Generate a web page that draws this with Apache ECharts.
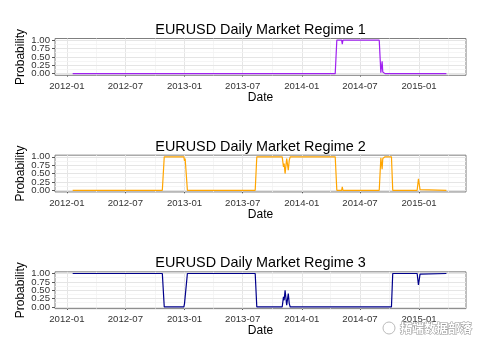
<!DOCTYPE html>
<html>
<head>
<meta charset="utf-8">
<script src="https://cdn.jsdelivr.net/npm/echarts@6/dist/echarts.min.js"></script>
<style>
html,body{margin:0;padding:0;background:#fff;}
#chart{width:485px;height:350px;}
</style>
</head>
<body>
<div id="chart"></div>
<script>
// ---- data ----
const titles = ['EURUSD Daily Market Regime 1', 'EURUSD Daily Market Regime 2', 'EURUSD Daily Market Regime 3'];
const seriesColors = ['#A020F0', '#FFA500', '#00008B'];

const majorDates = ['2012-01-01','2012-07-01','2013-01-01','2013-07-01','2014-01-01','2014-07-01','2015-01-01'];
const xTickLabels = ['2012-01','2012-07','2013-01','2013-07','2014-01','2014-07','2015-01'];
const minorDates = ['2012-04-01','2012-10-01','2013-04-01','2013-10-01','2014-04-01','2014-10-01','2015-04-01'];
const yTicks = [0, 0.25, 0.5, 0.75, 1];
const yMinor = [0.125, 0.375, 0.625, 0.875];

const r1Dates = ['2012-01-19','2014-02-17','2014-02-21','2014-02-25','2014-04-15','2014-04-20','2014-05-05','2014-05-07','2014-05-09','2014-08-30','2014-09-04','2014-09-08','2014-09-10','2014-09-14','2014-09-17','2015-03-27'];
const r1Values = [0,0,0.02,0,0,1,1,0.88,1,1,0.03,0.37,0.05,0.02,0,0];

const r2Dates = ['2012-01-19','2012-10-24','2012-10-30','2012-12-30','2013-01-01','2013-01-03','2013-01-05','2013-01-10','2013-08-09','2013-08-14','2013-09-15','2013-09-17','2013-09-19','2013-11-01','2013-11-05','2013-11-07','2013-11-10','2013-11-15','2013-11-17','2013-11-20','2013-11-23','2013-11-26','2014-04-15','2014-04-20','2014-05-05','2014-05-07','2014-05-09','2014-08-30','2014-09-04','2014-09-08','2014-09-10','2014-09-14','2014-09-17','2014-10-07','2014-10-11','2014-12-26','2014-12-30','2015-01-04','2015-01-08','2015-03-27'];
const r2Values = [0,0,1,1,0.88,0.95,0.9,0,0,1,1,0.95,1,1,0.7,0.8,0.5,0.95,0.9,0.6,0.9,1,1,0,0,0.1,0,0,0.97,0.63,0.95,0.98,1,1,0,0,0.34,0.02,0,0];

const r3Dates = ['2012-01-19','2012-10-24','2012-10-30','2012-12-30','2013-01-01','2013-01-03','2013-01-05','2013-01-10','2013-08-09','2013-08-14','2013-09-15','2013-09-17','2013-09-19','2013-11-01','2013-11-05','2013-11-07','2013-11-10','2013-11-15','2013-11-17','2013-11-20','2013-11-23','2013-11-26','2014-10-07','2014-10-11','2014-12-26','2014-12-30','2015-01-04','2015-01-08','2015-03-27'];
const r3Values = [1,1,0,0,0.1,0.05,0.1,1,1,0,0,0.05,0,0,0.3,0.2,0.5,0.05,0.1,0.4,0.1,0,0,1,1,0.66,0.98,1,1];

const xMinDate = '2011-11-25';
const xMaxDate = '2015-05-27';

// ---- build ----
const ts = d => Date.parse(d + 'T00:00:00Z');
const FONT = '"Liberation Sans", Arial, Helvetica, sans-serif';
const allDates = [r1Dates, r2Dates, r3Dates];
const allValues = [r1Values, r2Values, r3Values];

const panelH = 350 / 3;
const plotTop = 38.5, plotH = 36.8, plotLeft = 55, plotRight = 466;
const majorTs = majorDates.map(ts);
// labels split over two overlaid axes so that none get culled
const yTicksA = yTicks.filter((v, k) => k % 2 === 0);
const yTicksB = yTicks.filter((v, k) => k % 2 === 1);

const grids = [], xAxes = [], yAxes = [], series = [], titleArr = [];
function makeY(i, values, withName) {
  return {
    type: 'value', gridIndex: i, min: -0.05, max: 1.05, position: 'left', offset: 0,
    axisLine: { show: false },
    axisTick: { show: true, length: 3, customValues: values, lineStyle: { color: '#555', width: 1 } },
    axisLabel: {
      customValues: values, margin: 5, fontSize: 9.6, color: '#333', fontFamily: FONT,
      showMinLabel: true, showMaxLabel: true, hideOverlap: false,
      formatter: v => v.toFixed(2)
    },
    splitLine: { show: false },
    name: withName ? 'Probability' : '', nameLocation: 'middle', nameGap: 28, nameRotate: 90, nameMoveOverlap: false,
    nameTextStyle: { fontFamily: FONT, fontSize: 12, color: '#000' }
  };
}
for (let i = 0; i < 3; i++) {
  const top = plotTop + i * panelH;
  grids.push({
    left: plotLeft, top: top, width: plotRight - plotLeft, height: plotH,
    show: true, backgroundColor: '#fff', borderColor: '#7f7f7f', borderWidth: 1
  });
  titleArr.push({
    text: titles[i], left: (plotLeft + plotRight) / 2, top: top - 15.5, textAlign: 'center', padding: 0,
    textStyle: { fontFamily: FONT, fontSize: 14.4, fontWeight: 'normal', color: '#000' }
  });
  xAxes.push({
    type: 'value', gridIndex: i, min: ts(xMinDate), max: ts(xMaxDate), scale: true,
    axisLine: { show: false },
    axisTick: { show: true, length: 3, customValues: majorTs, lineStyle: { color: '#555', width: 1 } },
    axisLabel: {
      customValues: majorTs, margin: 6, fontSize: 9.6, color: '#333', fontFamily: FONT,
      showMinLabel: true, showMaxLabel: true,
      formatter: v => { const k = majorTs.indexOf(v); return k >= 0 ? xTickLabels[k] : ''; }
    },
    splitLine: { show: false },
    name: 'Date', nameLocation: 'middle', nameGap: 16.5, nameMoveOverlap: false,
    nameTextStyle: { fontFamily: FONT, fontSize: 12, color: '#000' }
  });
  yAxes.push(makeY(i, yTicksA, true));
  yAxes.push(makeY(i, yTicksB, false));
  const gridLines = [];
  majorDates.forEach(d => gridLines.push({ xAxis: ts(d), lineStyle: { color: '#e5e5e5', width: 1, type: 'solid' } }));
  minorDates.forEach(d => gridLines.push({ xAxis: ts(d), lineStyle: { color: '#f2f2f2', width: 0.8, type: 'solid' } }));
  yTicks.forEach(v => gridLines.push({ yAxis: v, lineStyle: { color: '#e5e5e5', width: 1, type: 'solid' } }));
  yMinor.forEach(v => gridLines.push({ yAxis: v, lineStyle: { color: '#f2f2f2', width: 0.8, type: 'solid' } }));
  series.push({
    type: 'line', xAxisIndex: i, yAxisIndex: 2 * i,
    data: allDates[i].map((d, k) => [ts(d), allValues[i][k]]),
    showSymbol: false, symbol: 'none',
    lineStyle: { color: seriesColors[i], width: 1.2 },
    itemStyle: { color: seriesColors[i] },
    z: 3, animation: false,
    markLine: {
      silent: true, symbol: 'none', z: 1, animation: false,
      label: { show: false },
      data: gridLines
    }
  });
}

const chart = echarts.init(document.getElementById('chart'), null, { renderer: 'canvas' });
chart.setOption({
  animation: false,
  backgroundColor: '#fff',
  title: titleArr,
  grid: grids,
  xAxis: xAxes,
  yAxis: yAxes,
  series: series,
  graphic: [
    { type: 'circle', shape: { cx: 389, cy: 328, r: 6 }, style: { fill: 'rgba(255,255,255,0.6)', stroke: '#bbb', lineWidth: 1 }, z: 100 },
    { type: 'text', x: 400, y: 328, style: { text: '拓端数据部落', fontFamily: '"Noto Sans CJK SC", sans-serif', fontSize: 12, fontWeight: 'bold', fill: '#fff', stroke: '#999', lineWidth: 1, verticalAlign: 'middle', textAlign: 'left' }, z: 100 }
  ]
});
</script>
</body>
</html>
